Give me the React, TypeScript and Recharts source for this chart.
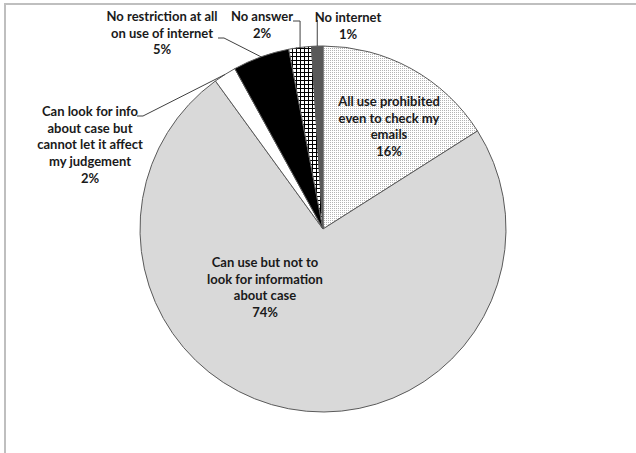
import React from "react";
import { PieChart, Pie, Cell } from "recharts";

const categoryLines: string[][] = [
  ["All use prohibited", "even to check my", "emails"],
  ["Can use but not to", "look for information", "about case"],
  ["Can look for info", "about case but", "cannot let it affect", "my judgement"],
  ["No restriction at all", "on use of internet"],
  ["No answer"],
  ["No internet"],
];
const categories: string[] = categoryLines.map((l) => l.join(" "));
const percentValues: number[] = [16, 74, 2, 5, 2, 1];
const percentLabels: string[] = ["16%", "74%", "2%", "5%", "2%", "1%"];

const data = categories.map((name, i) => ({
  name,
  value: percentValues[i],
  lines: [...categoryLines[i], percentLabels[i]],
}));

const fills = ["url(#dotsPattern)", "#d9d9d9", "#ffffff", "#000000", "url(#gridPattern)", "#595959"];

// label layout relative to pie centre (style only)
const labelLayout = [
  { dx: 66, dy: -128, leader: null as null | { sx: number; sy: number; mode: string } },
  { dx: -58, dy: 33, leader: null },
  { dx: -233, dy: -118, leader: { sx: -186, sy: -113, mode: "diag" } },
  { dx: -161, dy: -213, leader: { sx: -105, sy: -191, mode: "diag" } },
  { dx: -61, dy: -213, leader: { sx: -30, sy: -208, mode: "elbow" } },
  { dx: 25, dy: -212, leader: { sx: 0, sy: -209, mode: "vertical" } },
];

const LINE_H = 16.7;
const RAD = Math.PI / 180;

const renderLabel = (props: any) => {
  const { cx, cy, midAngle, outerRadius, index } = props;
  const lay = labelLayout[index];
  const lines: string[] = data[index].lines;
  const ex = cx + outerRadius * Math.cos(-midAngle * RAD);
  const ey = cy + outerRadius * Math.sin(-midAngle * RAD);
  let path: string | null = null;
  if (lay.leader) {
    const sx = cx + lay.leader.sx;
    const sy = cy + lay.leader.sy;
    if (lay.leader.mode === "diag") {
      path = `M${sx},${sy} h6 L${ex},${ey}`;
    } else if (lay.leader.mode === "elbow") {
      path = `M${sx},${sy} H${ex} V${ey}`;
    } else {
      path = `M${ex},${sy} V${ey}`;
    }
  }
  return (
    <g key={`lbl-${index}`}>
      {path && <path d={path} stroke="#404040" strokeWidth={1} fill="none" />}
      {lines.map((t, k) => (
        <text
          key={k}
          x={cx + lay.dx}
          y={cy + lay.dy + k * LINE_H}
          textAnchor="middle"
          dominantBaseline="central"
          fontFamily="Lato, 'Open Sans', sans-serif"
          fontWeight={700}
          fontSize={13}
          fill="#1a1a1a"
        >
          {t}
        </text>
      ))}
    </g>
  );
};

export default function App() {
  return (
    <div style={{ position: "absolute", left: 0, top: 0, width: 636, height: 453, background: "#fff" }}>
      <svg width={0} height={0} style={{ position: "absolute" }}>
        <defs>
          <pattern id="dotsPattern" width={2} height={2} patternUnits="userSpaceOnUse">
            <rect width={2} height={2} fill="#ffffff" />
            <rect x={0} y={0} width={1} height={1} fill="#b4b4b4" />
          </pattern>
          <pattern id="gridPattern" width={4} height={4} patternUnits="userSpaceOnUse">
            <rect width={4} height={4} fill="#ffffff" />
            <rect x={0} y={0} width={4} height={1} fill="#000000" />
            <rect x={0} y={0} width={1} height={4} fill="#000000" />
          </pattern>
        </defs>
      </svg>
      <div
        style={{
          position: "absolute",
          left: 4,
          top: 3,
          width: 632,
          height: 450,
          borderTop: "2px solid #bfbfbf",
          borderLeft: "2px solid #bfbfbf",
          boxSizing: "border-box",
        }}
      />
      <div style={{ position: "absolute", left: 0, top: 0 }}>
        <PieChart width={636} height={453} margin={{ top: 0, right: 0, bottom: 0, left: 0 }}>
          <Pie
            data={data}
            dataKey="value"
            nameKey="name"
            cx={323}
            cy={229}
            outerRadius={183}
            startAngle={90}
            endAngle={-270}
            stroke="#5a5a5a"
            strokeWidth={1}
            label={renderLabel}
            labelLine={false}
            isAnimationActive={false}
          >
            {data.map((d, i) => (
              <Cell key={d.name} fill={fills[i]} />
            ))}
          </Pie>
        </PieChart>
      </div>
    </div>
  );
}
